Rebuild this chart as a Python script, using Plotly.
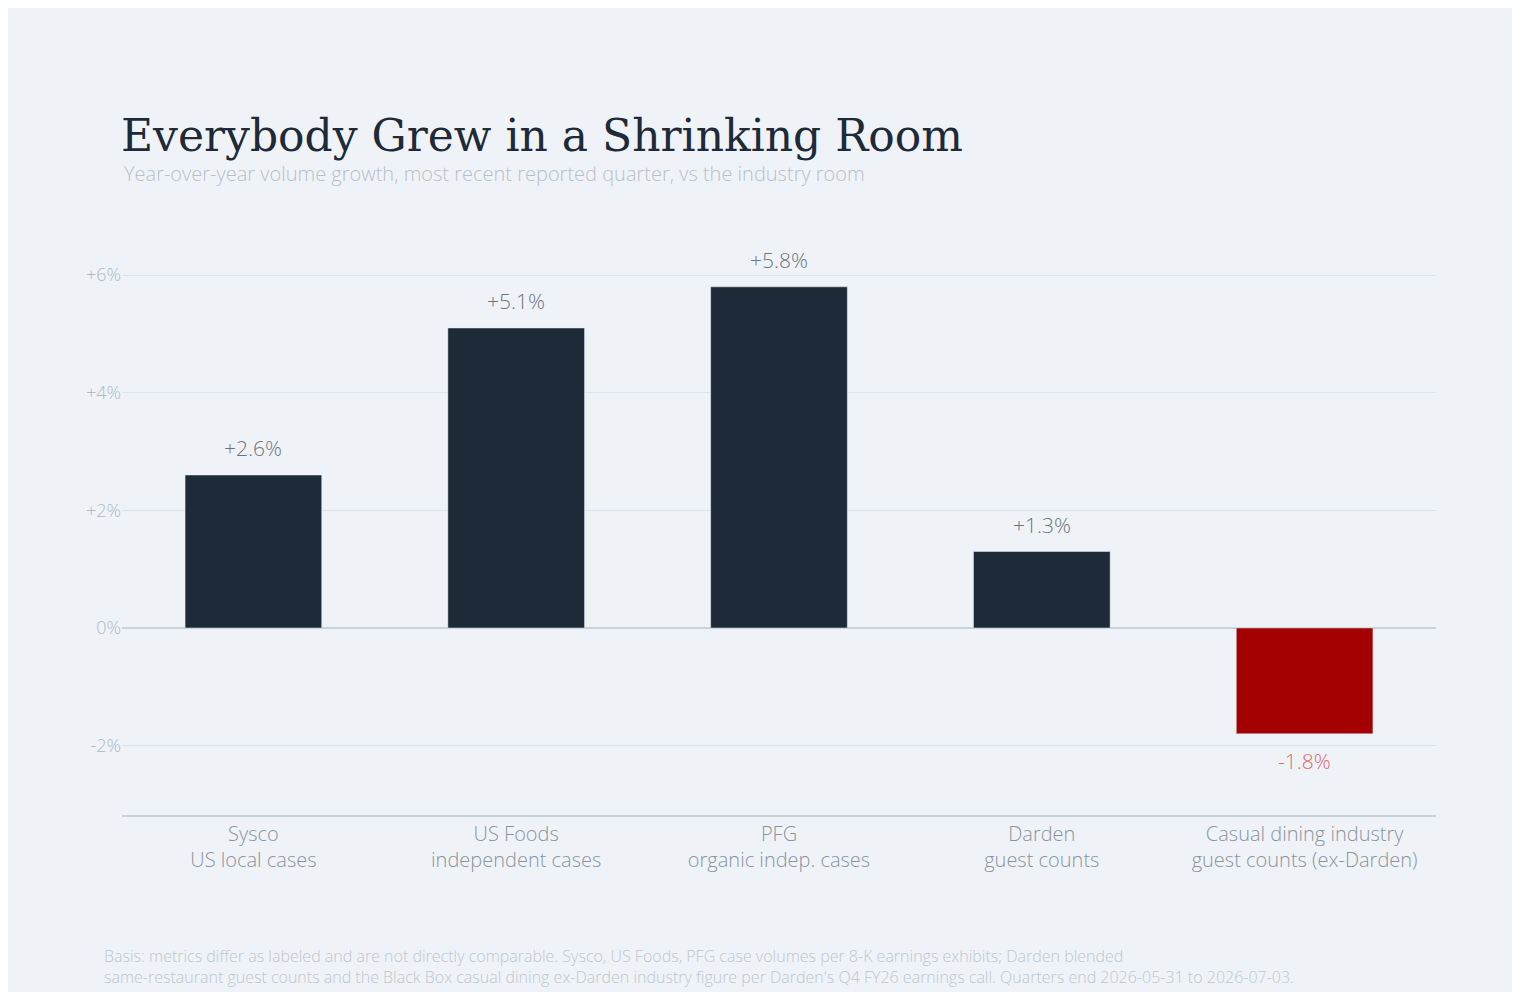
import plotly.graph_objects as go

categories = ["Sysco<br>US local cases", "US Foods<br>independent cases", "PFG<br>organic indep. cases",
              "Darden<br>guest counts", "Casual dining industry<br>guest counts (ex-Darden)"]
growth = [2.6, 5.1, 5.8, 1.3, -1.8]
tick_vals = [-2, 0, 2, 4, 6]
tick_text = ["-2%", "0%", "+2%", "+4%", "+6%"]

bar_colors = ["#1e2a38" if v >= 0 else "#a30000" for v in growth]
label_colors = ["#6b7480" if v >= 0 else "#e06a6a" for v in growth]
labels = [f"{v:+.1f}%" for v in growth]

body = "Open Sans"

fig = go.Figure(go.Bar(x=categories, y=growth, marker_color=bar_colors, width=0.52))

for cat, v, lab, col in zip(categories, growth, labels, label_colors):
    fig.add_annotation(x=cat, y=v, text=lab, showarrow=False,
                       yshift=27 if v >= 0 else -27,
                       font=dict(family=body, size=21, color=col, weight=300))

fig.update_layout(
    width=1520, height=992,
    paper_bgcolor="#eff3f8", plot_bgcolor="#eff3f8",
    margin=dict(l=114, r=92, t=220, b=185),
    showlegend=False,
    font=dict(family=body, color="#b0b8c2"),
)
fig.update_yaxes(
    range=[-3.18, 6.8], tickvals=tick_vals, ticktext=tick_text,
    gridcolor="#dde3ea", zeroline=True, zerolinecolor="#c8d3dc", zerolinewidth=2,
    tickfont=dict(family=body, size=18, color="#b0b8c2", weight=300), ticks="",
)
fig.update_xaxes(
    showline=True, linecolor="#c8d0d8", linewidth=2,
    tickfont=dict(family=body, size=20, color="#8a939e", weight=300),
)

fig.add_annotation(
    text="Everybody Grew in a Shrinking Room",
    xref="paper", yref="paper", x=-0.002, y=(772 - 92) / 587, xanchor="left", yanchor="middle",
    showarrow=False, font=dict(family="DejaVu Serif", size=44, color="#1e2a38"),
)
fig.add_annotation(
    text="Year-over-year volume growth, most recent reported quarter, vs the industry room",
    xref="paper", yref="paper", x=0, y=(772 - 130) / 587, xanchor="left", yanchor="middle",
    showarrow=False, font=dict(family=body, size=20, color="#b8bfc7", weight=300),
)
footer = ("Basis: metrics differ as labeled and are not directly comparable. Sysco, US Foods, PFG case volumes per 8-K earnings exhibits; Darden blended<br>"
          "same-restaurant guest counts and the Black Box casual dining ex-Darden industry figure per Darden's Q4 FY26 earnings call. Quarters end 2026-05-31 to 2026-07-03.<br>"
          "HighLine Consulting Group Inc | August 15, 2026")
fig.add_annotation(
    text=footer, xref="paper", yref="paper", x=-0.0155, y=(772 - 900) / 587, xanchor="left", yanchor="top",
    align="left", showarrow=False,
    font=dict(family=body, size=16, color="#c0c6cd", weight=300),
)

fig.write_html("out.html")
